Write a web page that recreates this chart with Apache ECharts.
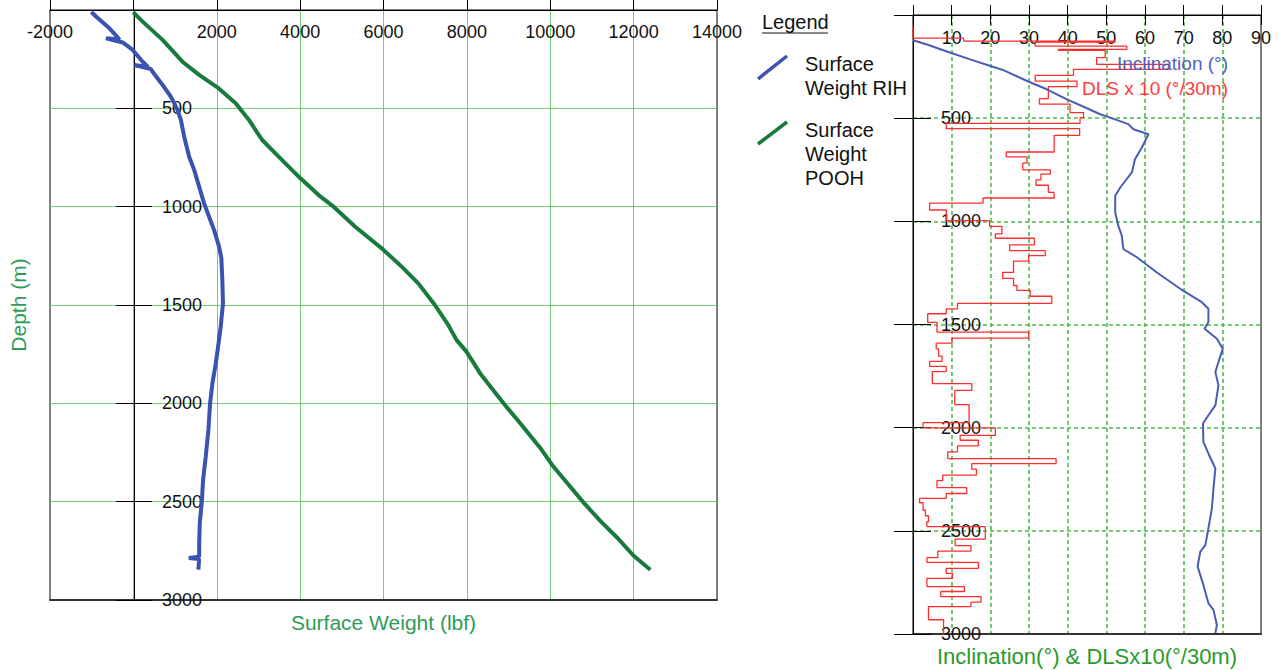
<!DOCTYPE html>
<html>
<head>
<meta charset="utf-8">
<script src="https://cdn.jsdelivr.net/npm/echarts@6/dist/echarts.min.js"></script>
<style>
html,body{margin:0;padding:0;background:#fff;}
#chart{width:1279px;height:670px;}
</style>
</head>
<body>
<div id="chart"></div>
<script>
// ---------- DATA ----------
// Left chart: surface weight (lbf) vs depth (m)
const rihWeight = [-1010,-890,-573,-330,-657,-256,-16,222,350,24,420,461,700,900,1059,1139,1219,1338,1458,1577,1697,1816,1935,2055,2110,2134,2150,2095,2040,1976,1895,1840,1800,1737,1673,1641,1593,1580,1577,1330,1577,1560];
const rihDepth  = [10,34,93,150,144,165,203,263,290,280,300,314,381,441,508,559,644,746,813,898,983,1051,1118,1203,1260,1373,1491,1610,1700,1798,1899,2000,2135,2269,2387,2505,2606,2700,2780,2786,2792,2845];

const poohWeight = [0,222,700,1178,1577,2015,2454,2772,3090,3568,4007,4444,4803,5321,5958,6436,6834,7233,7551,7760,7989,8319,8879,9280,9760,10040,10401,10800,11200,11601,12000,12401];
const poohDepth  = [12,59,152,263,330,393,474,559,661,763,856,941,1000,1102,1212,1305,1390,1500,1601,1680,1737,1848,2000,2101,2227,2312,2404,2505,2598,2682,2775,2846];

// Right chart: inclination (deg) vs depth (m)
const incValue = [0,3.6,9.7,14.8,20,23.4,29.5,34.6,39.8,45,48.4,49.7,55.7,57,60.9,59.2,57.4,56.6,53.6,52.3,52.3,53.1,54,54.4,57.9,63,69.1,74.7,76.4,76.4,75.4,78.6,80.1,79,78.2,79,78.2,76.4,75,75.1,76.4,78.2,77.7,77.3,76.4,75.6,74.3,73.6,75.1,76.4,77.7,78.6,78.2];
const incDepth = [122,143,183,215,247,267,320,360,409,452,481,489,529,554,578,642,699,763,836,876,957,1021,1070,1134,1174,1247,1327,1392,1424,1488,1521,1569,1618,1682,1730,1795,1892,1940,1980,2069,2125,2198,2295,2391,2488,2569,2601,2673,2762,2851,2883,2956,2995];

// Right chart: DLS x10 (deg/30m), constant over each depth interval
const dlsDepth = [54,112,127,131,151,167,171,207,239,264,293,320,347,405,432,473,497,525,551,583,664,688,718,751,771,799,825,860,887,912,945,997,1024,1061,1082,1114,1142,1166,1193,1247,1276,1311,1335,1363,1398,1424,1448,1490,1537,1566,1590,1618,1653,1679,1703,1728,1787,1819,1888,1976,2001,2037,2061,2088,2117,2150,2174,2201,2230,2257,2291,2319,2343,2364,2399,2427,2456,2480,2540,2572,2598,2630,2653,2682,2706,2730,2770,2794,2819,2846,2867,2931,3000];
const dlsValue = [0,13.1,52.3,31.6,55.3,37.6,49.7,47.5,66.1,41.5,31.6,42.4,35.0,32.7,40.6,44.1,43.2,8.6,43.1,36.5,24.1,29.5,28.4,35.5,33.1,31.8,35.0,36.5,18.1,4.3,8.6,19.8,23.0,21.3,31.4,25.0,34.2,29.9,26.0,23.2,26.0,26.9,30.3,35.9,11.5,8.6,3.8,6.2,29.9,10.1,6.0,6.6,7.5,4.3,8.6,5.0,15.2,10.8,14.5,2.6,21.3,12.2,16.9,11.5,9.0,37.0,15.2,16.4,7.7,6.2,13.9,8.6,1.7,2.6,3.2,4.0,3.6,18.7,10.9,15.0,6.4,3.6,16.9,8.6,10.2,3.6,13.3,7.2,17.6,15.0,4.0,7.9];

// ---------- BUILD ----------
const FONT = 'Liberation Sans, Arial, sans-serif';
const zip = (a, b) => a.map((v, i) => [v, b[i]]);
const dlsPts = [];
dlsValue.forEach((v, i) => { dlsPts.push([v, dlsDepth[i]]); dlsPts.push([v, dlsDepth[i + 1]]); });

const hideZero = v => (v === 0 ? '' : String(v));
const lblStyle = { color: '#111', fontSize: 18, fontFamily: FONT };
const greenSolid = { show: true, showMinLine: false, showMaxLine: false, lineStyle: { color: '#72d072', width: 1 } };
const greenDash = { show: true, showMinLine: false, showMaxLine: false, lineStyle: { color: '#4dbb4d', width: 1.6, type: [4, 3] } };
const blackLine = { show: true, onZero: false, lineStyle: { color: '#000', width: 1 } };

// left grid geometry (px): the weight=0 line sits 84 px right of the left edge
const LG = { left: 50, top: 10, width: 667, height: 590 };
const zeroOffset = -(LG.width - 84);

const chart = echarts.init(document.getElementById('chart'), null, { renderer: 'svg' });
chart.setOption({
  animation: false,
  backgroundColor: '#fff',
  grid: [
    { ...LG, containLabel: false, outerBoundsMode: 'none',
      show: true, borderColor: '#000', borderWidth: 1, backgroundColor: 'transparent' },
    { left: 913, top: 15, width: 348, height: 619, containLabel: false, outerBoundsMode: 'none',
      show: true, borderColor: '#000', borderWidth: 1, backgroundColor: 'transparent' }
  ],
  xAxis: [
    { gridIndex: 0, type: 'value', position: 'top', min: -2000, max: 14000, interval: 2000,
      axisLine: blackLine, axisTick: { show: true, inside: false, length: 10, lineStyle: { color: '#000' } },
      axisLabel: { inside: true, margin: 13, formatter: hideZero, showMinLabel: true, showMaxLabel: true, ...lblStyle },
      splitLine: greenSolid },
    { gridIndex: 0, type: 'value', position: 'bottom', min: -2000, max: 14000, interval: 2000,
      axisLine: { show: true, onZero: false, lineStyle: { color: '#333', width: 2 } },
      axisTick: { show: false }, axisLabel: { show: false }, splitLine: { show: false },
      name: 'Surface Weight (lbf)', nameLocation: 'middle', nameGap: 12,
      nameTextStyle: { color: '#2e9b57', fontSize: 21, fontFamily: FONT } },
    { gridIndex: 1, type: 'value', position: 'top', min: 0, max: 90, interval: 10,
      axisLine: blackLine, axisTick: { show: true, inside: false, length: 10, lineStyle: { color: '#000' } },
      axisLabel: { inside: true, margin: 14, formatter: hideZero, showMinLabel: true, showMaxLabel: true, ...lblStyle },
      splitLine: greenDash },
    { gridIndex: 1, type: 'value', position: 'top', min: 0, max: 90, interval: 10,
      axisLine: { show: false, onZero: false }, axisTick: { show: true, inside: true, length: 10, lineStyle: { color: '#000' } },
      axisLabel: { show: false }, splitLine: { show: false } },
    { gridIndex: 1, type: 'value', position: 'bottom', min: 0, max: 90, interval: 10,
      axisLine: { show: true, onZero: false, lineStyle: { color: '#333', width: 2 } },
      axisTick: { show: false }, axisLabel: { show: false }, splitLine: { show: false },
      name: 'Inclination(°) & DLSx10(°/30m)', nameLocation: 'middle', nameGap: 11,
      nameTextStyle: { color: '#2a9a2a', fontSize: 22, fontFamily: FONT } }
  ],
  yAxis: [
    // depth axis drawn on the weight = 0 line, labels to its right
    { gridIndex: 0, type: 'value', position: 'right', offset: zeroOffset, inverse: true, min: 0, max: 3000, interval: 500,
      axisLine: { show: true, onZero: false, lineStyle: { color: '#000', width: 1 } },
      axisTick: { show: true, inside: false, length: 18, lineStyle: { color: '#000' } },
      axisLabel: { inside: false, margin: 28, formatter: hideZero, showMinLabel: true, showMaxLabel: true, ...lblStyle },
      splitLine: greenSolid },
    { gridIndex: 0, type: 'value', position: 'right', offset: zeroOffset, inverse: true, min: 0, max: 3000, interval: 500,
      axisLine: { show: false, onZero: false },
      axisTick: { show: true, inside: true, length: 18, lineStyle: { color: '#000' } },
      axisLabel: { show: false }, splitLine: { show: false } },
    { gridIndex: 0, type: 'value', position: 'left', offset: 0, inverse: true, min: 0, max: 3000, interval: 500,
      axisLine: { show: false, onZero: false }, axisTick: { show: false }, axisLabel: { show: false }, splitLine: { show: false },
      name: 'Depth (m)', nameLocation: 'middle', nameGap: 21,
      nameTextStyle: { color: '#2e9b57', fontSize: 21, fontFamily: FONT } },
    { gridIndex: 1, type: 'value', position: 'left', inverse: true, min: 0, max: 3000, interval: 500,
      axisLine: { show: true, onZero: false, lineStyle: { color: '#000', width: 1 } },
      axisTick: { show: true, inside: true, length: 18, lineStyle: { color: '#000' } },
      axisLabel: { inside: true, margin: 28, formatter: hideZero, showMinLabel: true, showMaxLabel: true, ...lblStyle },
      splitLine: greenDash },
    { gridIndex: 1, type: 'value', position: 'left', inverse: true, min: 0, max: 3000, interval: 500,
      axisLine: { show: false, onZero: false },
      axisTick: { show: true, inside: false, length: 19, lineStyle: { color: '#000' } },
      axisLabel: { show: false }, splitLine: { show: false } }
  ],
  series: [
    { name: 'Surface Weight RIH', type: 'line', xAxisIndex: 0, yAxisIndex: 0, data: zip(rihWeight, rihDepth),
      showSymbol: false, lineStyle: { color: '#3853b0', width: 4 }, itemStyle: { color: '#3853b0' }, z: 5 },
    { name: 'Surface Weight POOH', type: 'line', xAxisIndex: 0, yAxisIndex: 0, data: zip(poohWeight, poohDepth),
      showSymbol: false, lineStyle: { color: '#187a3c', width: 4 }, itemStyle: { color: '#187a3c' }, z: 5 },
    { name: 'DLS x 10 (°/30m)', type: 'line', xAxisIndex: 2, yAxisIndex: 3, data: dlsPts,
      showSymbol: false, lineStyle: { color: '#ff2d2d', width: 1.3 }, itemStyle: { color: '#ff2d2d' }, z: 4 },
    { name: 'Inclination (°)', type: 'line', xAxisIndex: 2, yAxisIndex: 3, data: zip(incValue, incDepth),
      showSymbol: false, lineStyle: { color: '#4a5cb2', width: 2 }, itemStyle: { color: '#4a5cb2' }, z: 5 }
  ],
  graphic: [
    { type: 'text', x: 762, y: 22, z: 10, style: { text: 'Legend', font: '20px ' + FONT, fill: '#111', align: 'left', verticalAlign: 'middle' } },
    { type: 'line', z: 10, shape: { x1: 762, y1: 33, x2: 828, y2: 33 }, style: { stroke: '#111', lineWidth: 1 } },
    { type: 'line', z: 10, shape: { x1: 758, y1: 79, x2: 787, y2: 56 }, style: { stroke: '#3853b0', lineWidth: 3.5 } },
    { type: 'text', x: 805, y: 52, z: 10, style: { text: 'Surface\nWeight RIH', font: '20px ' + FONT, lineHeight: 24, fill: '#111', align: 'left', verticalAlign: 'top' } },
    { type: 'line', z: 10, shape: { x1: 758, y1: 144, x2: 787, y2: 122 }, style: { stroke: '#187a3c', lineWidth: 3.5 } },
    { type: 'text', x: 805, y: 118, z: 10, style: { text: 'Surface\nWeight\nPOOH', font: '20px ' + FONT, lineHeight: 24, fill: '#111', align: 'left', verticalAlign: 'top' } },
    { type: 'text', x: 1228, y: 63, z: 10, style: { text: 'Inclination (°)', font: '19px ' + FONT, fill: '#4f5fb8', align: 'right', verticalAlign: 'middle' } },
    { type: 'text', x: 1228, y: 88, z: 10, style: { text: 'DLS x 10 (°/30m)', font: '19px ' + FONT, fill: '#ff3a3a', align: 'right', verticalAlign: 'middle' } }
  ]
});
</script>
</body>
</html>
